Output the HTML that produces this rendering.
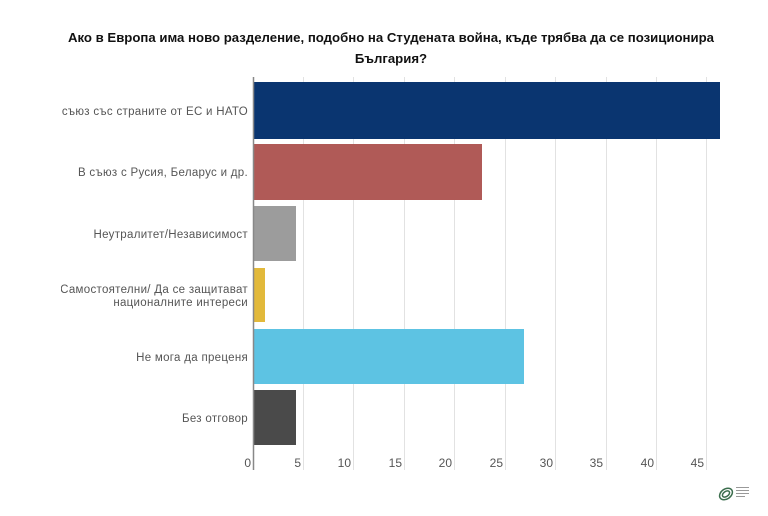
<!DOCTYPE html>
<html><head><meta charset="utf-8"><style>
body{margin:0;background:#fff;width:768px;height:511px;overflow:hidden;font-family:"Liberation Sans","DejaVu Sans",sans-serif;}
</style></head><body>
<svg width="768" height="511" xmlns="http://www.w3.org/2000/svg">
<text x="391" y="42" text-anchor="middle" font-size="13.2" font-weight="bold" fill="#111">Ако в Европа има ново разделение, подобно на Студената война, къде трябва да се позиционира</text>
<text x="391" y="63" text-anchor="middle" font-size="13.2" font-weight="bold" fill="#111">България?</text>
<g stroke="#e2e2e2" stroke-width="1">
<line x1="303.5" y1="77" x2="303.5" y2="470"/><line x1="353.5" y1="77" x2="353.5" y2="470"/>
<line x1="404.5" y1="77" x2="404.5" y2="470"/><line x1="454.5" y1="77" x2="454.5" y2="470"/>
<line x1="505.5" y1="77" x2="505.5" y2="470"/><line x1="555.5" y1="77" x2="555.5" y2="470"/>
<line x1="606.5" y1="77" x2="606.5" y2="470"/><line x1="656.5" y1="77" x2="656.5" y2="470"/>
<line x1="706.5" y1="77" x2="706.5" y2="470"/>
</g>
<rect x="254" y="82" width="466" height="57" fill="#0a3570"/>
<rect x="254" y="144" width="228" height="56" fill="#b05a57"/>
<rect x="254" y="206" width="42" height="55" fill="#9c9c9c"/>
<rect x="254" y="268" width="11" height="54" fill="#e2b93b"/>
<rect x="254" y="329" width="270" height="55" fill="#5dc3e3"/>
<rect x="254" y="390" width="42" height="55" fill="#4a4a4a"/>
<line x1="253.5" y1="77" x2="253.5" y2="470" stroke="#888" stroke-width="1.5"/>
<g font-size="11.5" fill="#555" text-anchor="end" letter-spacing="0.3">
<text x="248" y="115">В съюз със страните от ЕС и НАТО</text>
<text x="248" y="176">В съюз с Русия, Беларус и др.</text>
<text x="248" y="238">Неутралитет/Независимост</text>
<text x="248" y="293">Самостоятелни/ Да се защитават</text>
<text x="248" y="306">националните интереси</text>
<text x="248" y="361">Не мога да преценя</text>
<text x="248" y="422">Без отговор</text>
</g>
<rect x="0" y="80" width="61" height="240" fill="#fff"/>
<g font-size="12" fill="#555" text-anchor="end">
<text x="251" y="467">0</text><text x="301" y="467">5</text><text x="351" y="467">10</text>
<text x="402" y="467">15</text><text x="452" y="467">20</text><text x="503" y="467">25</text>
<text x="553" y="467">30</text><text x="603" y="467">35</text><text x="654" y="467">40</text>
<text x="704" y="467">45</text>
</g>
<g transform="translate(726,494)" fill="none" stroke="#3c6e4e" stroke-width="1.5">
<ellipse cx="0" cy="0" rx="7" ry="5" transform="rotate(-35)"/>
<ellipse cx="0" cy="0" rx="4" ry="2.5" transform="rotate(-35)"/>
</g>
<g fill="#999"><rect x="736" y="487" width="13" height="1"/><rect x="736" y="490" width="13" height="1"/><rect x="736" y="493" width="13" height="1"/><rect x="736" y="496" width="9" height="1"/></g>
</svg>
</body></html>
